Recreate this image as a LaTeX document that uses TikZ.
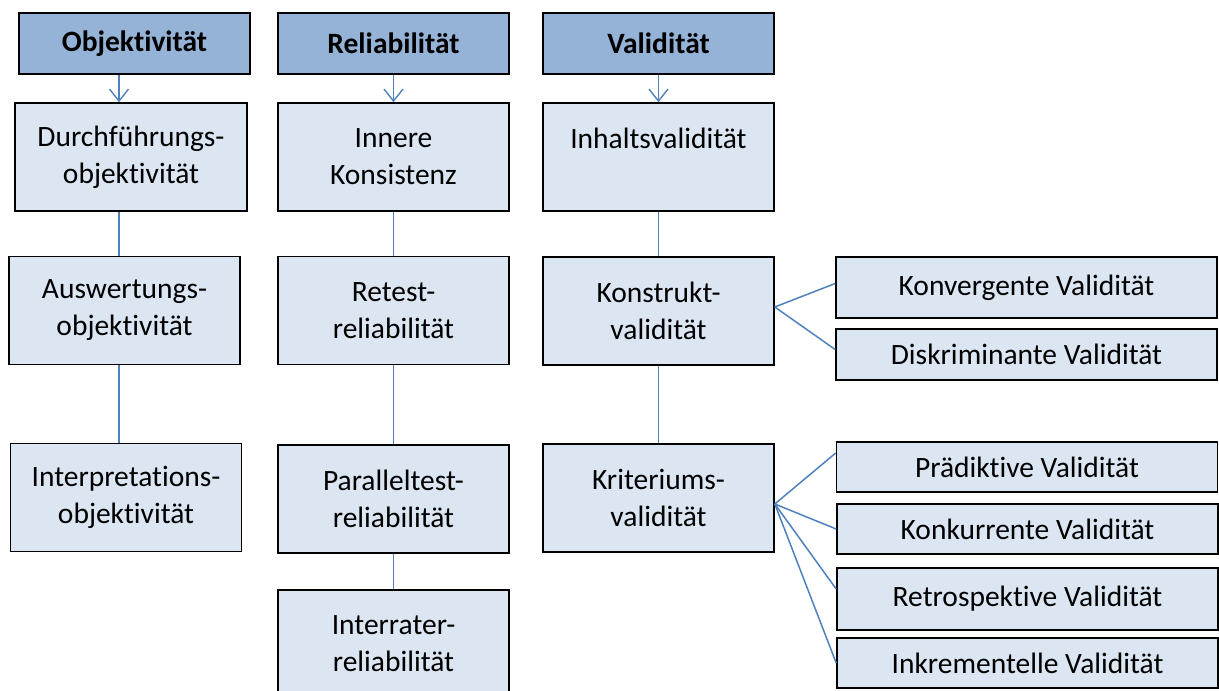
\documentclass[tikz,border=0pt]{standalone}
\usepackage{fontspec}
\setmainfont{Carlito}[Ligatures={NoCommon,NoContextual,NoRare}, Contextuals=NoAlternate]
\usetikzlibrary{arrows.meta}

\definecolor{headblue}{HTML}{95B3D7}
\definecolor{itemblue}{HTML}{DCE6F2}
\definecolor{linkblue}{HTML}{4F81BD}

\begin{document}
\begin{tikzpicture}[
        x=1pt, y=-1pt,
        every node/.style={align=center, font=\fontsize{29.5}{37}\selectfont, inner sep=0pt},
        head/.style={draw=black, line width=1.6pt, fill=headblue, minimum width=231pt, minimum height=61pt,
            font=\fontsize{29.5}{37}\selectfont\bfseries},
        item/.style={draw=black, line width=1.6pt, fill=itemblue, minimum width=231pt, minimum height=108pt},
        sub/.style={draw=black, line width=1.6pt, fill=itemblue, minimum width=381pt},
        link/.style={draw=linkblue, line width=1.5pt},
        arr/.style={link, -{Straight Barb[length=12pt, width=19pt, line width=1.4pt]}}
    ]
    \useasboundingbox (0,0) rectangle (1219,691);
    % headers
    \node[head] (oh) at (134.5,43.5) {Objektivität};
    \node[head] (rh) at (393.5,43.5) {Reliabilität};
    \node[head] (vh) at (658.5,43.5) {Validität};
    % Objektivitaet
    \node[item, minimum width=232pt] (o1) at (131,157) {Durchführungs-\\objektivität};
    \node[item] (o2) at (124.5,310.5) {Auswertungs-\\objektivität};
    \node[item] (o3) at (126,497.5) {Interpretations-\\objektivität};
    % Reliabilitaet
    \node[item] (r1) at (393.5,157) {Innere\\Konsistenz};
    \node[item] (r2) at (393.5,310.5) {Retest-\\reliabilität};
    \node[item] (r3) at (393.5,499) {Paralleltest-\\reliabilität};
    \node[item] (r4) at (393.5,644) {Interrater-\\reliabilität};
    % Validitaet
    \node[item] (v1) at (658.5,157) {Inhaltsvalidität\\\mbox{}};
    \node[item] (v2) at (658.5,311) {Konstrukt-\\validität};
    \node[item] (v3) at (658.5,498) {Kriteriums-\\validität};
    \node[sub, minimum height=61pt] (k1) at (1026.5,287.5) {Konvergente Validität};
    \node[sub, minimum height=51pt] (k2) at (1026.5,354.5) {Diskriminante Validität};
    \node[sub, minimum height=50pt] (p1) at (1027,467) {Prädiktive Validität};
    \node[sub, minimum height=50pt] (p2) at (1027.5,529) {Konkurrente Validität};
    \node[sub, minimum height=62pt] (p3) at (1027.5,599) {Retrospektive Validität};
    \node[sub, minimum height=50pt] (p4) at (1027.5,663) {Inkrementelle Validität};

    \coordinate (c1) at (119,0);
    \draw[arr] (oh.south -| c1) -- (o1.north -| c1);
    \draw[arr] (rh) -- (r1);
    \draw[arr] (vh) -- (v1);
    \draw[link] (o1.south -| c1) -- (o2.north -| c1);
    \draw[link] (o2.south -| c1) -- (o3.north -| c1);
    \draw[link] (r1) -- (r2);
    \draw[link] (r2) -- (r3);
    \draw[link] (r3) -- (r4);
    \draw[link] (v1) -- (v2);
    \draw[link] (v2) -- (v3);
    % fans
    \draw[link] ([yshift=4pt]v2.east) -- ([yshift=4pt]k1.west);
    \draw[link] ([yshift=4pt]v2.east) -- ([yshift=5pt]k2.west);
    \draw[link] ([yshift=-6pt]v3.east) -- ([yshift=14pt]p1.west);
    \draw[link] ([yshift=-6pt]v3.east) -- (p2.west);
    \draw[link] ([yshift=-6pt]v3.east) -- ([yshift=10pt]p3.west);
    \draw[link] ([yshift=-6pt]v3.east) -- (p4.west);
\end{tikzpicture}
\end{document}
